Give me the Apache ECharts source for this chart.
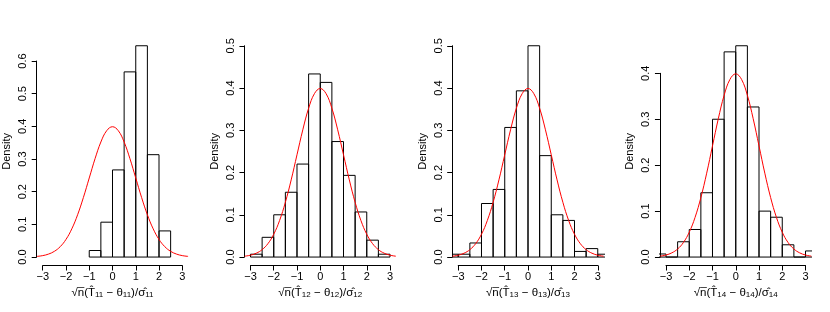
<!DOCTYPE html>
<html><head><meta charset="utf-8">
<script src="https://cdn.jsdelivr.net/npm/echarts@6/dist/echarts.min.js"></script>
<style>html,body{margin:0;padding:0;background:#fff}#c{width:830px;height:312px}</style>
</head><body><div id="c"></div>
<script>
// ---- data ----
const binLefts = [-3.5, -3, -2.5, -2, -1.5, -1, -0.5, 0, 0.5, 1, 1.5, 2, 2.5, 3];
const binWidth = 0.5;
const density11 = [null, null, null, null, null, 0.02, 0.1067, 0.2667, 0.5667, 0.6467, 0.3133, 0.08, null, null];
const density12 = [null, 0.0067, 0.0467, 0.1, 0.1533, 0.22, 0.4333, 0.4133, 0.2733, 0.1933, 0.1067, 0.04, 0.0067, null];
const density13 = [0.0067, 0.0067, 0.0333, 0.1267, 0.16, 0.3067, 0.3933, 0.5, 0.24, 0.1, 0.0867, 0.0133, 0.02, 0.0067];
const density14 = [0.0067, 0, 0.0333, 0.06, 0.14, 0.3, 0.4467, 0.46, 0.3267, 0.1, 0.0867, 0.0267, 0, 0.0133];
const curveX = [-3.25, -3, -2.75, -2.5, -2.25, -2, -1.75, -1.5, -1.25, -1, -0.75, -0.5, -0.25, 0,
                0.25, 0.5, 0.75, 1, 1.25, 1.5, 1.75, 2, 2.25, 2.5, 2.75, 3, 3.25];
const curveY = [0.002, 0.0044, 0.0091, 0.0175, 0.0317, 0.054, 0.0863, 0.1295, 0.1826, 0.242, 0.3011, 0.3521, 0.3867, 0.3989,
                0.3867, 0.3521, 0.3011, 0.242, 0.1826, 0.1295, 0.0863, 0.054, 0.0317, 0.0175, 0.0091, 0.0044, 0.002];
const panelSubs = ['11', '12', '13', '14'];
const yDataMax = [0.6467, 0.5, 0.5, 0.46];
const yTickMax = [0.6, 0.5, 0.5, 0.4];
const xTickMin = -3, xTickMax = 3;
const yLabel = 'Density';

// ---- layout ----
const densities = [density11, density12, density13, density14];
const FONT = '"Liberation Sans", Arial, Helvetica, sans-serif';
const FS = 11;
const plotLeft0 = 36.7, panelStep = 207.75, plotW = 151.6, plotTop = 37.3, plotH = 228.2;
const xlim = [-3.26, 3.26];

const grids = [], xAxes = [], yAxes = [], series = [];
for (let i = 0; i < 4; i++) {
  const L = plotLeft0 + panelStep * i;
  const ylo = -0.04 * yDataMax[i], yhi = 1.04 * yDataMax[i];
  grids.push({left: L, top: plotTop, width: plotW, height: plotH});
  const xl = L + (xTickMin - xlim[0]) / (xlim[1] - xlim[0]) * plotW;
  const xw = (xTickMax - xTickMin) / (xlim[1] - xlim[0]) * plotW;
  grids.push({left: xl, top: plotTop, width: xw, height: plotH});
  const yt = plotTop + plotH * (yhi - yTickMax[i]) / (yhi - ylo);
  const yb = plotTop + plotH * (yhi - 0) / (yhi - ylo);
  grids.push({left: L, top: yt, width: plotW, height: yb - yt});

  const g = 3 * i;
  const sub = panelSubs[i];
  xAxes.push({
    type: 'value', gridIndex: g, min: xlim[0], max: xlim[1],
    axisLine: {show: false}, axisTick: {show: false}, axisLabel: {show: false}, splitLine: {show: false},
    name: '{m|√n\u0305(T\u0302}{s|' + sub + '}{m| \u2212 θ}{s|' + sub + '}{m|)/σ\u0302}{s|' + sub + '}',
    nameLocation: 'middle', nameGap: 18,
    nameTextStyle: {
      fontFamily: FONT, color: '#000',
      rich: {
        m: {fontSize: 11.5, fontFamily: FONT, color: '#000', lineHeight: 15, verticalAlign: 'bottom'},
        s: {fontSize: 8, fontFamily: FONT, color: '#000', lineHeight: 15, verticalAlign: 'bottom', padding: [3, 0, 0, 0]}
      }
    }
  });
  yAxes.push({
    type: 'value', gridIndex: g, min: ylo, max: yhi,
    axisLine: {show: false}, axisTick: {show: false}, axisLabel: {show: false}, splitLine: {show: false},
    name: yLabel, nameLocation: 'middle', nameGap: 24, nameRotate: 90,
    nameTextStyle: {fontFamily: FONT, fontSize: FS, color: '#000'}
  });
  xAxes.push({
    type: 'value', gridIndex: g + 1, min: xTickMin, max: xTickMax, interval: 1,
    axisLine: {show: true, onZero: false, lineStyle: {color: '#000', width: 1}},
    axisTick: {show: true, inside: false, length: 5, lineStyle: {color: '#000', width: 1}},
    axisLabel: {show: true, margin: 6, fontFamily: FONT, fontSize: FS, color: '#000',
                formatter: v => String(v).replace('-', '\u2212')},
    splitLine: {show: false}
  });
  yAxes.push({type: 'value', gridIndex: g + 1, show: false, min: 0, max: 1});
  xAxes.push({type: 'value', gridIndex: g + 2, show: false, min: 0, max: 1});
  yAxes.push({
    type: 'value', gridIndex: g + 2, min: 0, max: yTickMax[i], interval: 0.1,
    axisLine: {show: true, onZero: false, lineStyle: {color: '#000', width: 1}},
    axisTick: {show: true, inside: false, length: 5, lineStyle: {color: '#000', width: 1}},
    axisLabel: {show: true, rotate: 90, margin: 8, fontFamily: FONT, fontSize: FS, color: '#000',
                formatter: v => v.toFixed(1)},
    splitLine: {show: false}
  });

  const histData = [];
  binLefts.forEach((x, k) => {
    const d = densities[i][k];
    if (d !== null) histData.push([x, x + binWidth, d]);
  });
  series.push({
    type: 'custom', xAxisIndex: g, yAxisIndex: g, clip: true, silent: true,
    encode: {x: [0, 1], y: 2},
    data: histData,
    renderItem: (params, api) => {
      const p0 = api.coord([api.value(0), api.value(2)]);
      const p1 = api.coord([api.value(1), 0]);
      return {type: 'rect', shape: {x: p0[0], y: p0[1], width: p1[0] - p0[0], height: p1[1] - p0[1]},
              style: {fill: 'none', stroke: '#000', lineWidth: 1}};
    }
  });
  series.push({
    type: 'line', xAxisIndex: g, yAxisIndex: g, clip: true, silent: true,
    data: curveX.map((x, k) => [x, curveY[k]]),
    smooth: 0.4, showSymbol: false, symbol: 'none',
    lineStyle: {color: '#ff0000', width: 1}, z: 5
  });
}

const chart = echarts.init(document.getElementById('c'), null, {renderer: 'canvas'});
chart.setOption({
  backgroundColor: '#ffffff',
  animation: false,
  grid: grids, xAxis: xAxes, yAxis: yAxes, series: series
});
</script></body></html>
